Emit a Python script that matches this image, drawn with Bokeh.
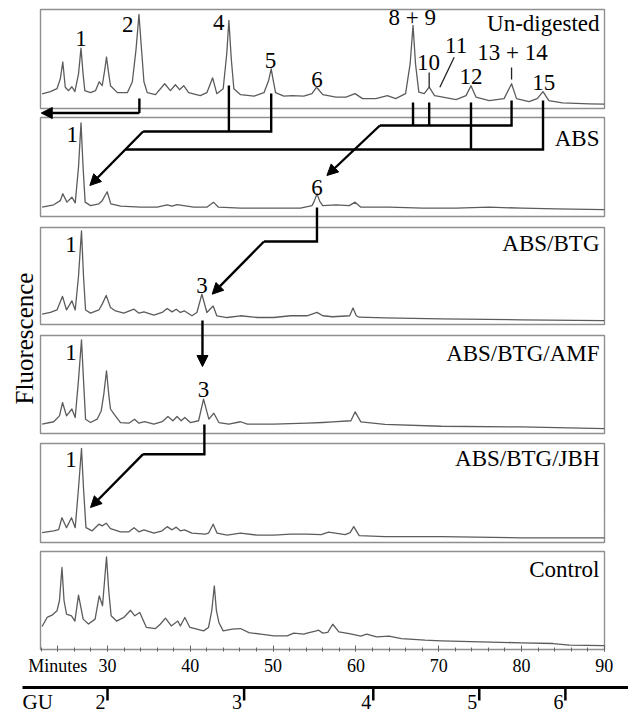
import math
from bokeh.plotting import figure
from bokeh.models import Range1d, FixedTicker, Arrow, NormalHead
from bokeh.layouts import column
from bokeh.embed import file_html
from bokeh.resources import INLINE
from bokeh.core.properties import value

# ---------------- data ----------------
panel_names = ["Un-digested", "ABS", "ABS/BTG", "ABS/BTG/AMF", "ABS/BTG/JBH", "Control"]

# retention time (minutes) and relative fluorescence (fraction of panel height)
undigested_min = [22.1, 23.1, 23.9, 24.3, 24.6, 24.9, 25.3, 25.7, 26.06, 26.5, 26.8, 27.05, 27.26, 27.95, 28.55,
                  29.0, 29.36, 29.65, 29.88, 30.1, 30.36, 31.2, 32.4, 33.0, 33.45, 33.8, 34.15, 34.4, 34.8, 35.8,
                  36.9, 37.6, 38.2, 38.7, 39.2, 39.8, 41.2, 42.0, 42.7, 43.2, 43.97, 44.4, 44.66, 44.95, 45.26,
                  46.07, 47.7, 48.9, 49.45, 49.77, 50.05, 50.3, 51.3, 52.3, 53.7, 54.7, 55.25, 56.0, 57.6, 58.8,
                  59.9, 60.8, 62.4, 63.8, 64.8, 66.0, 66.55, 66.9, 67.2, 67.6, 68.25, 68.85, 69.5, 70.5, 72.1,
                  73.3, 73.9, 74.5, 76.1, 77.9, 78.8, 79.4, 80.9, 81.9, 82.6, 83.3, 84.95, 88.2, 90.0]
undigested_sig = [0.148, 0.17, 0.2, 0.3, 0.47, 0.215, 0.18, 0.22, 0.17, 0.35, 0.61, 0.35, 0.18, 0.16, 0.18,
                  0.27, 0.23, 0.38, 0.52, 0.38, 0.23, 0.16, 0.16, 0.27, 0.6, 0.95, 0.55, 0.27, 0.16, 0.14,
                  0.25, 0.18, 0.24, 0.19, 0.23, 0.16, 0.13, 0.16, 0.31, 0.15, 0.2, 0.55, 0.89, 0.5, 0.2,
                  0.14, 0.125, 0.16, 0.28, 0.4, 0.27, 0.16, 0.125, 0.13, 0.125, 0.15, 0.215, 0.14, 0.115, 0.115,
                  0.15, 0.1, 0.1, 0.13, 0.1, 0.15, 0.45, 0.84, 0.45, 0.165, 0.15, 0.215, 0.13, 0.115, 0.09,
                  0.13, 0.23, 0.115, 0.08, 0.1, 0.25, 0.1, 0.07, 0.1, 0.17, 0.08, 0.057, 0.047, 0.044]

abs_min = [22.1, 23.5, 24.3, 24.6, 25.1, 25.7, 26.1, 26.5, 26.8, 27.05, 27.3, 27.95, 28.96, 29.36, 29.96, 30.4,
           31.6, 34.0, 36.0, 37.2, 37.8, 38.4, 39.2, 40.4, 42.0, 42.8, 43.4, 46.07, 50.1, 53.3, 54.7, 54.95,
           55.3, 55.65, 56.0, 57.6, 59.2, 59.9, 60.6, 64.0, 68.1, 72.1, 76.1, 80.1, 84.2, 90.0]
abs_sig = [0.094, 0.118, 0.16, 0.23, 0.145, 0.195, 0.138, 0.5, 0.946, 0.5, 0.145, 0.11, 0.128, 0.16, 0.25, 0.128,
           0.104, 0.094, 0.094, 0.118, 0.104, 0.12, 0.11, 0.094, 0.094, 0.145, 0.094, 0.084, 0.084, 0.084, 0.11, 0.15,
           0.23, 0.15, 0.11, 0.118, 0.11, 0.145, 0.094, 0.094, 0.084, 0.084, 0.094, 0.084, 0.077, 0.07]

abs_btg_min = [22.1, 23.1, 23.9, 24.57, 25.05, 25.7, 26.1, 26.5, 26.86, 27.1, 27.35, 27.95, 28.96, 29.36, 29.84,
               30.36, 30.97, 31.97, 33.2, 33.8, 34.4, 35.6, 36.6, 37.2, 37.8, 38.3, 38.8, 39.3, 40.2, 40.8, 41.4,
               42.0, 42.76, 43.2, 44.45, 46.06, 48.1, 50.1, 52.1, 54.1, 55.3, 56.0, 57.2, 59.25, 59.65, 60.05,
               60.4, 63.5, 70.3, 80.0, 90.0]
abs_btg_sig = [0.107, 0.124, 0.15, 0.29, 0.15, 0.244, 0.15, 0.5, 0.966, 0.5, 0.15, 0.117, 0.15, 0.21, 0.3,
               0.175, 0.14, 0.117, 0.158, 0.117, 0.13, 0.096, 0.124, 0.165, 0.13, 0.158, 0.124, 0.14, 0.09, 0.124, 0.313,
               0.124, 0.19, 0.09, 0.072, 0.09, 0.072, 0.072, 0.09, 0.09, 0.125, 0.09, 0.08, 0.09, 0.17, 0.09,
               0.075, 0.068, 0.058, 0.048, 0.04]

abs_btg_amf_min = [22.1, 23.5, 24.2, 24.57, 25.05, 25.7, 26.1, 26.5, 26.86, 27.1, 27.35, 27.95, 28.75, 29.24, 29.55,
                   29.88, 30.15, 30.36, 30.77, 31.57, 32.58, 33.26, 33.8, 34.47, 35.6, 36.6, 37.3, 37.9, 38.4, 38.9,
                   39.34, 40.0, 41.0, 41.6, 42.24, 42.84, 43.45, 44.65, 46.06, 46.9, 50.1, 54.1, 56.0, 57.2, 59.4,
                   59.9, 60.6, 63.5, 70.3, 80.0, 90.0]
abs_btg_amf_sig = [0.095, 0.12, 0.18, 0.316, 0.18, 0.25, 0.163, 0.55, 0.956, 0.55, 0.146, 0.112, 0.146, 0.23, 0.4,
                   0.64, 0.4, 0.25, 0.2, 0.112, 0.105, 0.146, 0.105, 0.122, 0.095, 0.12, 0.173, 0.13, 0.173, 0.13,
                   0.163, 0.112, 0.13, 0.35, 0.146, 0.207, 0.112, 0.095, 0.12, 0.095, 0.095, 0.105, 0.112, 0.118, 0.13,
                   0.22, 0.118, 0.094, 0.074, 0.067, 0.05]

abs_btg_jbh_min = [22.1, 23.5, 24.1, 24.5, 25.05, 25.65, 26.1, 26.5, 26.86, 27.1, 27.4, 28.15, 28.96, 29.36, 29.84,
                   30.36, 31.57, 32.58, 33.2, 33.8, 34.4, 35.6, 36.6, 37.2, 37.8, 38.3, 38.8, 39.3, 40.2, 41.8,
                   42.2, 42.76, 43.24, 44.45, 46.06, 48.1, 50.1, 52.1, 54.1, 55.8, 56.7, 58.7, 59.3, 59.74, 60.4,
                   63.5, 70.3, 80.0, 90.0]
abs_btg_jbh_sig = [0.1, 0.118, 0.13, 0.25, 0.15, 0.25, 0.15, 0.55, 0.95, 0.55, 0.15, 0.118, 0.185, 0.168, 0.195,
                   0.14, 0.108, 0.108, 0.15, 0.108, 0.128, 0.094, 0.118, 0.16, 0.128, 0.155, 0.118, 0.128, 0.094, 0.084,
                   0.094, 0.185, 0.094, 0.074, 0.094, 0.074, 0.074, 0.084, 0.084, 0.08, 0.104, 0.08, 0.1, 0.16, 0.07,
                   0.06, 0.06, 0.047, 0.047]

control_min = [22.1, 22.7, 23.3, 23.9, 24.2, 24.5, 24.75, 25.05, 25.65, 26.06, 26.5, 27.06, 27.7, 28.5, 29.0,
               29.4, 29.88, 30.15, 30.44, 31.1, 31.97, 32.78, 33.3, 33.9, 34.7, 35.8, 36.4, 37.0, 37.7, 38.5,
               38.8, 39.34, 39.95, 40.8, 41.6, 42.2, 42.6, 42.9, 43.15, 43.45, 43.97, 45.06, 46.06, 47.07, 48.5,
               50.1, 51.7, 52.5, 53.7, 54.1, 55.1, 55.5, 56.0, 56.6, 57.2, 57.95, 59.2, 60.6, 61.3, 62.5,
               64.0, 65.5, 68.35, 70.3, 75.1, 80.0, 83.8, 85.8, 90.0]
control_sig = [0.235, 0.327, 0.35, 0.395, 0.5, 0.837, 0.5, 0.36, 0.344, 0.29, 0.554, 0.31, 0.26, 0.31, 0.548,
               0.446, 0.946, 0.6, 0.344, 0.29, 0.327, 0.4, 0.344, 0.378, 0.225, 0.214, 0.26, 0.32, 0.24, 0.29,
               0.24, 0.327, 0.225, 0.207, 0.19, 0.225, 0.4, 0.65, 0.4, 0.276, 0.19, 0.207, 0.214, 0.173, 0.156,
               0.14, 0.14, 0.167, 0.156, 0.167, 0.187, 0.197, 0.167, 0.175, 0.258, 0.18, 0.163, 0.136, 0.156, 0.129,
               0.136, 0.112, 0.095, 0.088, 0.078, 0.068, 0.061, 0.044, 0.04]

x_tick_values = [24, 30, 40, 50, 60, 70, 80, 90]
x_tick_labels = ["Minutes", "30", "40", "50", "60", "70", "80", "90"]
x_minor_ticks = [22, 24, 26, 28, 30, 32, 34, 36, 38, 40, 42, 44, 46, 48, 50, 52, 54, 56, 58, 60, 62, 64, 66,
                 68, 70, 72, 74, 76, 78, 80, 82, 84, 86, 88, 90]

gu_labels = ["2", "3", "4", "5", "6"]
gu_minutes = [30.0, 46.5, 62.1, 74.9, 85.3]

# ---------------- layout ----------------
FONT = "Liberation Serif"
PX_PER_MIN = 8.28
W = 628


def px_to_min(px):
    return 30 + (px - 107) / PX_PER_MIN


PANEL_TOP = [9, 117, 227, 335, 443, 551]
PANEL_BOT = [108, 216, 324, 433, 542, 649]
X_LEFT, X_RIGHT = px_to_min(40), px_to_min(604)

traces = [(undigested_min, undigested_sig), (abs_min, abs_sig), (abs_btg_min, abs_btg_sig),
          (abs_btg_amf_min, abs_btg_amf_sig), (abs_btg_jbh_min, abs_btg_jbh_sig), (control_min, control_sig)]

xr = Range1d(px_to_min(0), px_to_min(W))

p = figure(width=W, height=681, x_range=xr, y_range=Range1d(651, 0), output_backend="svg",
           toolbar_location=None, min_border_left=0, min_border_right=0, min_border_top=0,
           min_border_bottom=30)
p.yaxis.visible = False
p.xgrid.visible = False
p.ygrid.visible = False
p.outline_line_color = None
p.background_fill_color = "white"
p.border_fill_color = "white"

# panel boxes
p.quad(left=[X_LEFT] * 6, right=[X_RIGHT] * 6, top=PANEL_TOP, bottom=PANEL_BOT,
       fill_color=None, line_color="#8f8f8f", line_width=1.4)

# chromatograms
for (mins, sig), top, bot in zip(traces, PANEL_TOP, PANEL_BOT):
    ys = [bot - s * (bot - top) for s in sig]
    p.line(mins, ys, line_color="#5c5c5c", line_width=1.3, line_join="round")

# panel names
name_y = [23, 138, 242.5, 353, 458, 569]
p.text(x=[X_RIGHT] * 6, y=name_y, text=panel_names, x_offset=-5, text_align="right", text_baseline="middle",
       text_font=value(FONT), text_font_size="23px", text_color="black")

# y title
p.text(x=[px_to_min(24)], y=[338], text=["Fluorescence"], angle=math.pi / 2, text_align="center",
       text_baseline="middle", text_font=value(FONT), text_font_size="25px", text_color="black")

# peak numbers
peak_marks = [("1", 26.8, 38), ("2", 32.45, 24.3), ("4", 43.44, 21.7), ("5", 49.7, 60), ("6", 55.3, 79),
              ("8 + 9", 66.8, 16.7), ("10", 68.77, 62), ("11", 72.1, 45), ("12", 73.9, 75.7),
              ("13 + 14", 78.9, 51.7), ("15", 82.7, 82.3),
              ("1", 25.73, 134.3), ("6", 55.3, 186.7),
              ("1", 25.6, 243.7), ("3", 41.4, 284.7),
              ("1", 25.6, 352), ("3", 41.6, 388.7),
              ("1", 25.6, 459.3)]
p.text(x=[m[1] for m in peak_marks], y=[m[2] for m in peak_marks], text=[m[0] for m in peak_marks],
       text_align="center", text_baseline="middle", text_font=value(FONT), text_font_size="23px",
       text_color="black")

# thin pointer marks in the top panel
p.multi_line(xs=[[68.85, 68.85], [78.8, 78.8], [70.14, 71.87]], ys=[[72, 87], [67, 79], [86.7, 56.7]],
             line_color="#222222", line_width=1.3)

# thick connector lines
LW = 2.4
d_x0, d_y0, d_x1, d_y1 = 34.3, 131, 27.87, 185
t = (149 - d_y0) / (d_y1 - d_y0)
paths = [
    ([33.85, 33.85], [98, 112.5]),
    ([44.66, 44.66], [85, 131]),
    ([49.77, 49.77, d_x0], [93, 131, 131]),
    ([73.9, 73.9], [102, 149]),
    ([82.6, 82.6, d_x0 + (d_x1 - d_x0) * t], [100, 149, 149]),
    ([66.9, 66.9], [102, 125]),
    ([68.85, 68.85], [102, 125]),
    ([78.8, 78.8, 62.9], [100, 125, 125]),
    ([55.3, 55.3, 48.9], [207, 241, 241]),
    ([41.7, 41.7, 34.3], [424, 453.7, 453.7]),
]
for xs, ys in paths:
    p.line(xs, ys, line_color="black", line_width=LW, line_join="miter")

arrows = [
    (33.85, 112.5, 22.0, 112.5),
    (d_x0, d_y0, d_x1, d_y1),
    (62.9, 125, 56.5, 175),
    (48.9, 241, 42.64, 293.7),
    (41.47, 320, 41.47, 366),
    (34.3, 453.7, 27.95, 507),
]
for x0, y0, x1, y1 in arrows:
    p.add_layout(Arrow(end=NormalHead(size=11, fill_color="black", line_color="black", line_width=1),
                       x_start=x0, y_start=y0, x_end=x1, y_end=y1, line_color="black", line_width=LW))

# minutes axis
xa = p.xaxis[0]
xa.ticker = FixedTicker(ticks=x_tick_values, minor_ticks=x_minor_ticks)
xa.major_label_overrides = dict(zip(x_tick_values, x_tick_labels))
xa.axis_line_color = None
xa.major_tick_in = 6
xa.major_tick_out = 0
xa.minor_tick_in = 4
xa.minor_tick_out = 0
xa.major_tick_line_color = "#666666"
xa.minor_tick_line_color = "#666666"
xa.major_label_standoff = 4
xa.major_label_text_font = FONT
xa.major_label_text_font_size = "18px"
xa.major_label_text_color = "black"

# GU scale strip
g = figure(width=W, height=32, x_range=xr, y_range=Range1d(713, 681),
           output_backend="svg", toolbar_location=None, min_border=0)
g.axis.visible = False
g.xgrid.visible = False
g.ygrid.visible = False
g.outline_line_color = None
g.line([px_to_min(22), px_to_min(W)], [687, 687], line_color="black", line_width=3)
g.segment(x0=gu_minutes, y0=[687] * 5, x1=gu_minutes, y1=[700] * 5, line_color="black", line_width=2.5)
g.text(x=gu_minutes, y=[701] * 5, text=gu_labels, x_offset=-2, text_align="right", text_baseline="middle",
       text_font=value(FONT), text_font_size="20px", text_color="black")
g.text(x=[px_to_min(22)], y=[701], text=["GU"], text_align="left", text_baseline="middle",
       text_font=value(FONT), text_font_size="21px", text_color="black")

layout = column(p, g, spacing=0)
open("out.html", "w").write(file_html(layout, INLINE))
